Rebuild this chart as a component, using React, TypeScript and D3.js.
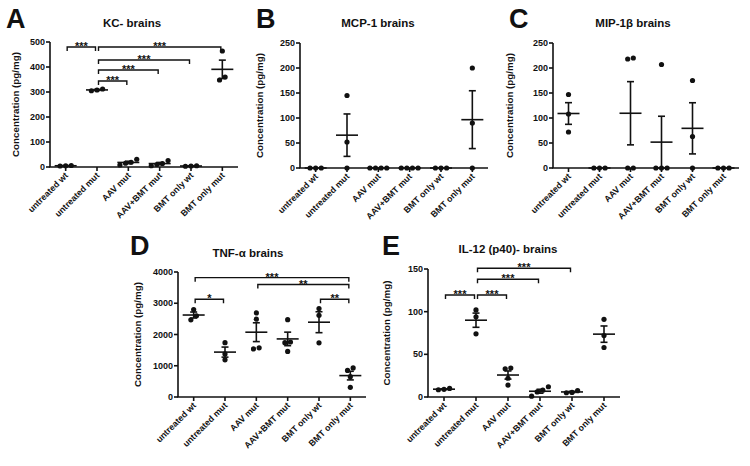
import React from "react";
import * as d3 from "d3";

const categories = ["untreated wt", "untreated mut", "AAV mut", "AAV+BMT mut", "BMT only wt", "BMT only mut"];

const kcValues = [[5, 6, 4], [312, 305, 308], [19, 15, 8, 31], [14, 10, 5, 26], [3, 5, 4], [464, 360, 348]];
const mcpValues = [[0, 0, 0], [145, 52, 0], [0, 0, 0, 0], [0, 0, 0, 0], [0, 0, 0], [200, 90, 0]];
const mipValues = [[147, 108, 72], [0, 0, 0], [220, 218, 0, 0], [207, 0, 0, 0], [175, 63, 0], [0, 0, 0]];
const tnfValues = [[2800, 2600, 2470], [1740, 1380, 1190], [2690, 2490, 1540, 1575], [2475, 1760, 1740, 1460], [2830, 2615, 1735], [930, 850, 650, 310]];
const il12Values = [[10, 9, 8.5], [102, 94, 74], [33, 34, 22, 14], [12, 8, 6, 1], [7.4, 5.4, 5], [91, 72, 58]];

const kcTicks = [0, 100, 200, 300, 400, 500];
const mcpTicks = [0, 50, 100, 150, 200, 250];
const mipTicks = [0, 50, 100, 150, 200, 250];
const tnfTicks = [0, 1000, 2000, 3000, 4000];
const il12Ticks = [0, 50, 100, 150];

// significance brackets: [fromIndex, toIndex, level, label]
const kcSig: [number, number, number, string][] = [
  [0, 1, 480, "***"], [1, 5, 480, "***"], [1, 4, 428, "***"], [1, 3, 388, "***"], [1, 2, 344, "***"],
];
const tnfSig: [number, number, number, string][] = [
  [0, 1, 3130, "*"], [0, 5, 3820, "***"], [2, 5, 3600, "**"], [4, 5, 3130, "**"],
];
const il12Sig: [number, number, number, string][] = [
  [0, 1, 119.5, "***"], [1, 2, 119.5, "***"], [1, 3, 138, "***"], [1, 4, 150.8, "***"],
];

const FONT = "'Liberation Sans', Arial, Helvetica, sans-serif";
const INK = "#111";

type PanelCfg = {
  letter: string; title: string; values: number[][]; ticks: number[]; sig: [number, number, number, string][];
  L: number; R: number; top: number; bottom: number; ylabelX: number; titleX: number; titleY: number;
  letterX: number; letterY: number;
};

const panels: PanelCfg[] = [
  { letter: "A", title: "KC- brains", values: kcValues, ticks: kcTicks, sig: kcSig,
    L: 50, R: 238, top: 42, bottom: 167, ylabelX: 16, titleX: 132, titleY: 27, letterX: 6, letterY: 28 },
  { letter: "B", title: "MCP-1 brains", values: mcpValues, ticks: mcpTicks, sig: [],
    L: 300, R: 488, top: 43, bottom: 168, ylabelX: 260, titleX: 378, titleY: 27, letterX: 256, letterY: 28 },
  { letter: "C", title: "MIP-1β brains", values: mipValues, ticks: mipTicks, sig: [],
    L: 553, R: 739, top: 43, bottom: 168, ylabelX: 510, titleX: 633, titleY: 27, letterX: 509, letterY: 28 },
  { letter: "D", title: "TNF-α brains", values: tnfValues, ticks: tnfTicks, sig: tnfSig,
    L: 178, R: 366, top: 272, bottom: 397, ylabelX: 138, titleX: 248, titleY: 257, letterX: 130, letterY: 255 },
  { letter: "E", title: "IL-12 (p40)- brains", values: il12Values, ticks: il12Ticks, sig: il12Sig,
    L: 428, R: 620, top: 269, bottom: 397, ylabelX: 387, titleX: 508, titleY: 253, letterX: 382, letterY: 255 },
];

function swarmOffsets(vals: number[], y: (v: number) => number, r = 2.6, spacing = 5.6) {
  const items = vals.map((v, i) => ({ v, i, py: y(v) })).sort((a, b) => a.py - b.py);
  const offsets = new Array(vals.length).fill(0);
  let cluster: typeof items = [];
  const flush = () => {
    const sorted = [...cluster].sort((a, b) => a.v - b.v);
    sorted.forEach((it, k) => { offsets[it.i] = (k - (sorted.length - 1) / 2) * spacing; });
    cluster = [];
  };
  items.forEach((it, k) => {
    if (k > 0 && it.py - items[k - 1].py >= 2 * r) flush();
    cluster.push(it);
  });
  flush();
  return offsets;
}

function Panel({ cfg }: { cfg: PanelCfg }) {
  const x = d3.scalePoint<string>().domain(categories).range([cfg.L, cfg.R]).padding(0.5);
  const y = d3.scaleLinear().domain([0, d3.max(cfg.ticks) as number]).range([cfg.bottom, cfg.top]);
  const sw = 1.6;
  return (
    <g fontFamily={FONT} fill={INK}>
      <text x={cfg.letterX} y={cfg.letterY} fontSize={27} fontWeight="bold">{cfg.letter}</text>
      <text x={cfg.titleX} y={cfg.titleY} fontSize={11.5} fontWeight="bold" textAnchor="middle">{cfg.title}</text>
      <text transform={`translate(${cfg.ylabelX},${(cfg.top + cfg.bottom) / 2}) rotate(-90)`} fontSize={9.8}
        fontWeight="bold" textAnchor="middle" dominantBaseline="middle">Concentration (pg/mg)</text>
      {/* axes */}
      <line x1={cfg.L} x2={cfg.L} y1={cfg.bottom} y2={y(d3.max(cfg.ticks) as number)} stroke={INK} strokeWidth={sw} />
      <line x1={cfg.L - 0.8} x2={cfg.R} y1={cfg.bottom} y2={cfg.bottom} stroke={INK} strokeWidth={sw} />
      {cfg.ticks.map((t) => (
        <g key={"yt" + t}>
          <line x1={cfg.L - 4} x2={cfg.L} y1={y(t)} y2={y(t)} stroke={INK} strokeWidth={sw} />
          <text x={cfg.L - 5} y={y(t)} dy="0.35em" fontSize={9} fontWeight="bold" textAnchor="end">{t}</text>
        </g>
      ))}
      {categories.map((c) => (
        <g key={"xt" + c}>
          <line x1={x(c)} x2={x(c)} y1={cfg.bottom} y2={cfg.bottom + 4} stroke={INK} strokeWidth={sw} />
          <text transform={`translate(${(x(c) as number) + 3},${cfg.bottom + 9}) rotate(-45)`} fontSize={8.8}
            fontWeight="bold" textAnchor="end">{c}</text>
        </g>
      ))}
      {/* data */}
      {cfg.values.map((vals, gi) => {
        const cx = x(categories[gi]) as number;
        const m = d3.mean(vals) as number;
        const sem = (d3.deviation(vals) || 0) / Math.sqrt(vals.length);
        const offs = swarmOffsets(vals, y);
        return (
          <g key={"g" + gi}>
            {vals.map((v, i) => (
              <circle key={i} cx={cx + offs[i]} cy={y(v)} r={2.6} fill={INK} />
            ))}
            <line x1={cx - 11} x2={cx + 11} y1={y(m)} y2={y(m)} stroke={INK} strokeWidth={sw} />
            {sem > 0 && (
              <g stroke={INK} strokeWidth={sw}>
                <line x1={cx} x2={cx} y1={y(m - sem)} y2={y(m + sem)} />
                <line x1={cx - 3.5} x2={cx + 3.5} y1={y(m - sem)} y2={y(m - sem)} />
                <line x1={cx - 3.5} x2={cx + 3.5} y1={y(m + sem)} y2={y(m + sem)} />
              </g>
            )}
          </g>
        );
      })}
      {/* significance brackets */}
      {cfg.sig.map(([a, b, lvl, lab], k) => {
        const x1 = (x(categories[a]) as number) + 1.5;
        const x2 = (x(categories[b]) as number) - 1.5;
        const yy = y(lvl);
        return (
          <g key={"s" + k}>
            <path d={`M${x1},${yy + 4}V${yy}H${x2}V${yy + 4}`} fill="none" stroke={INK} strokeWidth={1.4} />
            <text x={(x1 + x2) / 2} y={yy + 3} fontSize={11} fontWeight="bold" textAnchor="middle">{lab}</text>
          </g>
        );
      })}
    </g>
  );
}

export default function App() {
  return (
    <svg width={750} height={466} style={{ position: "absolute", left: 0, top: 0, background: "#fff" }}>
      <rect width={750} height={466} fill="#fff" />
      {panels.map((p) => (
        <Panel key={p.letter} cfg={p} />
      ))}
    </svg>
  );
}
